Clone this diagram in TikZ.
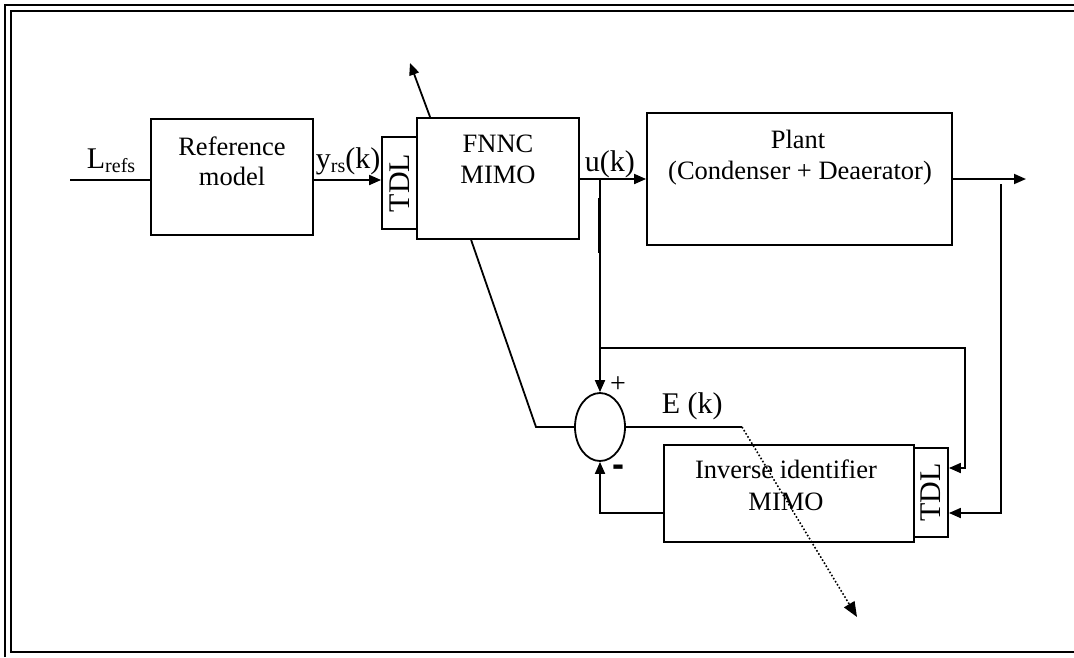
\documentclass[tikz,border=0pt]{standalone}
\usepackage{fontspec}
\setmainfont{Liberation Serif}
\newfontfamily\minusfont{Liberation Sans}
\usetikzlibrary{arrows.meta,shapes.geometric}
\newcommand{\boxfont}{\fontsize{26.5}{30}\selectfont}
\newcommand{\labfont}{\fontsize{30}{34}\selectfont}
\newcommand{\lsub}[1]{\raisebox{-4pt}{\fontsize{20}{20}\selectfont #1}}
\begin{document}
\begin{tikzpicture}[x=1pt,y=-1pt,
  line width=1.8pt,
  blk/.style={draw,line width=1.8pt,inner sep=0pt,rectangle},
  sumnode/.style={draw,line width=1.8pt,ellipse,inner sep=0pt,minimum width=50pt,minimum height=68pt},
  arr/.style={-{Triangle[length=12pt,width=10pt]}},
  bigarr/.style={-{Triangle[length=15pt,width=12pt]}},
  btxt/.style={inner sep=0pt,anchor=base,font=\boxfont},
  ltxt/.style={inner sep=0pt,anchor=base west,font=\labfont},
  frame/.style={line width=2.2pt}]
\useasboundingbox (0,0) rectangle (1074,657);
% double frame
\draw[frame] (5,657) -- (5,5) -- (1074,5);
\draw[frame] (1074,11) -- (11,11) -- (11,652) -- (1074,652);

% blocks
\node[blk,minimum width=162pt,minimum height=116pt] (ref) at (232,177) {};
\node[blk,minimum width=35pt,minimum height=92pt] (tdl1) at (399.5,183) {};
\node[blk,minimum width=162pt,minimum height=121pt,fill=white] (fnnc) at (498,178.5) {};
\node[blk,minimum width=305pt,minimum height=132pt] (plant) at (799.5,179) {};
\node[blk,minimum width=250pt,minimum height=97pt] (inv) at (789,493.5) {};
\node[blk,minimum width=34pt,minimum height=89pt] (tdl2) at (931,492.5) {};
\node[sumnode] (sum) at (600,427) {};

% texts in blocks
\node[btxt] (t1) at (232,155) {Reference};
\node[btxt] (t2) at (232,185) {model};
\node[btxt] (t3) at (498,152) {FNNC};
\node[btxt] (t4) at (498,183) {MIMO};
\node[btxt] (t5) at (798,148) {Plant};
\node[btxt] (t6) at (800,179) {(Condenser + Deaerator)};
\node[btxt] (t7) at (786,478) {Inverse identifier};
\node[btxt] (t8) at (786,510) {MIMO};
\node[inner sep=0pt,rotate=90,font=\labfont] (t9) at (tdl1) {TDL};
\node[inner sep=0pt,rotate=90,font=\labfont] (t10) at (tdl2) {TDL};

% labels
\node[ltxt] (lref) at (86,168) {L\lsub{refs}};
\node[ltxt] (lyrs) at (315,168) {y\lsub{rs}(k)};
\node[ltxt] (luk) at (584,171) {u(k)};
\node[ltxt] (lek) at (661,413) {E (k)};
\node[inner sep=0pt,font=\fontsize{28}{28}\selectfont] (lplus) at (618,385) {+};
\node[inner sep=0pt,font=\fontsize{36}{36}\selectfont\minusfont\bfseries] (lminus) at (618,471) {-};

% coordinates
\coordinate (lin) at (70,180);
\coordinate (adapt) at (410,63);
\coordinate (bend) at (536,427);
\coordinate (br) at (600,179);
\coordinate (j1) at (600,348);
\coordinate (c1) at (965,348);
\coordinate (c2) at (965,468);
\coordinate (out) at (1026,179);
\coordinate (f1) at (1001,184);
\coordinate (f2) at (1001,513);
\coordinate (ek) at (742,427);
\coordinate (dt) at (857,617);

% connectors
\draw (lin) -- (lin -| ref.west);
\draw[arr] (ref.east |- lin) -- (lin -| tdl1.west);
\draw[arr] ([xshift=14pt]fnnc.north west) -- (adapt);
\draw[arr] (fnnc.east |- plant.west) -- (plant.west);
\draw[arr] (br) -- (sum.north);
\draw[line width=2.4pt] (599.5,198) -- (599.5,253);
\draw[arr] (j1) -- (c1) -- (c2) -- (c2 -| tdl2.east);
\draw[arr] (plant.east) -- (out);
\draw[arr] (f1) -- (f2) -- (f2 -| tdl2.east);
\draw[arr] (inv.west |- f2) -- (sum.south |- f2) -- (sum.south);
\draw ([xshift=55pt]fnnc.south west) -- (bend) -- (sum.west);
\draw (sum.east) -- (ek);
\draw[dotted,line width=1.6pt,bigarr] (ek) -- (dt);
\end{tikzpicture}
\end{document}
